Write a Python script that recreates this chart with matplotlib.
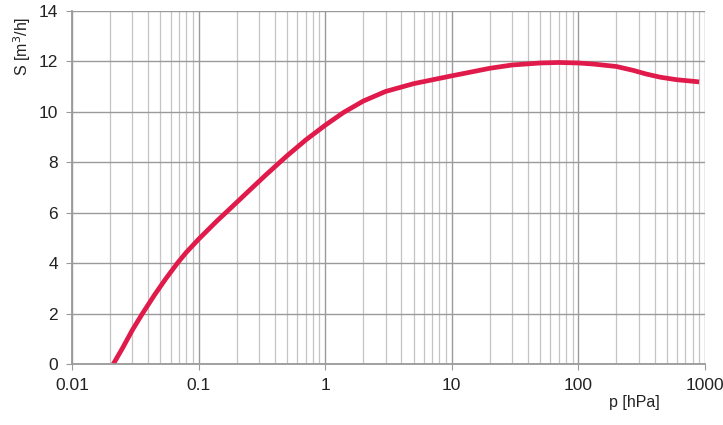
import numpy as np
import matplotlib.pyplot as plt
from matplotlib.ticker import LogLocator, FixedLocator, NullFormatter

# pumping speed curve
pressure = [0.0212, 0.025, 0.03, 0.036, 0.045, 0.055, 0.068, 0.08, 0.1, 0.14, 0.172,
            0.25, 0.34, 0.44, 0.5, 0.7, 1.0, 1.39, 2.0, 3.0, 5.0, 10, 20, 30, 50,
            70, 100, 130, 200, 270, 345, 440, 590, 900]
speed = [0.0, 0.62, 1.35, 2.0, 2.75, 3.38, 4.0, 4.43, 4.95, 5.68, 6.1,
         6.87, 7.5, 8.01, 8.26, 8.88, 9.47, 9.97, 10.43, 10.81, 11.12, 11.43, 11.73, 11.86, 11.94,
         11.96, 11.94, 11.9, 11.8, 11.65, 11.5, 11.38, 11.28, 11.19]

xticks = [0.01, 0.1, 1, 10, 100, 1000]
xticklabels = ['0.01', '0.1', '1', '10', '100', '1000']
yticks = [0, 2, 4, 6, 8, 10, 12, 14]

plt.rcParams['font.family'] = ['Liberation Sans', 'DejaVu Sans']

fig = plt.figure(figsize=(7.23, 4.25), dpi=100)
ax = fig.add_axes([0.0996, 0.1435, 0.8754, 0.8305])

ax.set_xscale('log')
ax.set_xlim(0.01, 1000)
ax.set_ylim(0, 14)

ax.xaxis.set_major_locator(FixedLocator(xticks))
ax.set_xticks(xticks)
ax.set_xticklabels(xticklabels)
ax.xaxis.set_minor_locator(LogLocator(base=10, subs=np.arange(2, 10)))
ax.xaxis.set_minor_formatter(NullFormatter())
ax.set_yticks(yticks)

ax.grid(True, which='major', color='#9a9a9a', lw=1.0)
ax.grid(True, which='minor', axis='x', color='#c4c4c4', lw=0.9)
ax.set_axisbelow(True)

for s in ['top', 'right']:
    ax.spines[s].set_visible(False)
for s in ['left', 'bottom']:
    ax.spines[s].set_color('#9a9a9a')
    ax.spines[s].set_linewidth(1.3)

ax.tick_params(which='major', length=4, color='#9a9a9a', labelsize=12.5,
               labelcolor='#222222', pad=6)
ax.tick_params(which='minor', length=0)

ax.plot(pressure, speed, color='#e01a4a', lw=3.4, solid_capstyle='butt',
        solid_joinstyle='round')

fig.text(0.031, 0.892, 'S [m$^3$/h]', rotation=90, fontsize=11.5, color='#222222',
         ha='center', va='center')
fig.text(0.878, 0.052, 'p [hPa]', fontsize=11.5, color='#222222', ha='center', va='center')

fig.savefig('out.png', dpi=100)
